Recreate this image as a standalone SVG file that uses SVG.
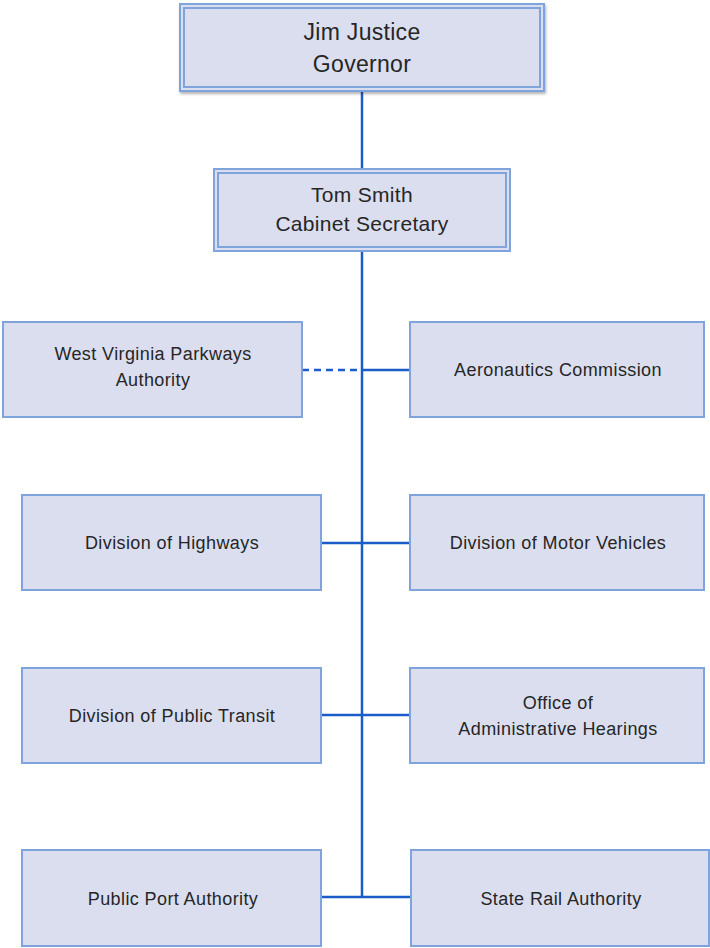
<svg xmlns="http://www.w3.org/2000/svg" width="710" height="948" viewBox="0 0 710 948">
<style>
.box{fill:#dadeef;stroke:#7fa3dd;stroke-width:2}
.inner{fill:none;stroke:#7fa3dd;stroke-width:2}
.t{font-family:"Liberation Sans",Arial,sans-serif;fill:#262626;text-anchor:middle}
.s{font-size:18px;letter-spacing:0.4px}
.l{font-size:21px;letter-spacing:0.3px}
.xl{font-size:23px;letter-spacing:0.3px}
.c{stroke:#1a5cc8;stroke-width:2.5;fill:none}
</style>
<defs>
<filter id="sh" x="-5%" y="-5%" width="110%" height="120%">
<feDropShadow dx="1" dy="2" stdDeviation="1.5" flood-color="#000" flood-opacity="0.3"/>
</filter>
</defs>
<g id="connectors">
<line class="c" x1="362" y1="91" x2="362" y2="168"/>
<line class="c" x1="362" y1="251" x2="362" y2="897"/>
<line class="c" x1="302" y1="370" x2="362" y2="370" stroke-dasharray="7,5"/>
<line class="c" x1="362" y1="370" x2="410" y2="370"/>
<line class="c" x1="321" y1="543" x2="410" y2="543"/>
<line class="c" x1="321" y1="715" x2="410" y2="715"/>
<line class="c" x1="321" y1="897" x2="411" y2="897"/>
</g>
<g id="governor">
<rect class="box" x="180" y="4" width="364" height="87" filter="url(#sh)"/>
<rect class="inner" x="184" y="8" width="356" height="79"/>
<text class="t xl" x="362" y="40">Jim Justice</text>
<text class="t xl" x="362" y="72">Governor</text>
</g>
<g id="secretary">
<rect class="box" x="214" y="169" width="296" height="82"/>
<rect class="inner" x="218" y="173" width="288" height="74"/>
<text class="t l" x="362" y="202">Tom Smith</text>
<text class="t l" x="362" y="231">Cabinet Secretary</text>
</g>
<g id="parkways">
<rect class="box" x="3" y="322" width="299" height="95"/>
<text class="t s" x="153" y="360">West Virginia Parkways</text>
<text class="t s" x="153" y="386">Authority</text>
</g>
<g id="aeronautics">
<rect class="box" x="410" y="322" width="294" height="95"/>
<text class="t s" x="558" y="376">Aeronautics Commission</text>
</g>
<g id="highways">
<rect class="box" x="22" y="495" width="299" height="95"/>
<text class="t s" x="172" y="549">Division of Highways</text>
</g>
<g id="motor-vehicles">
<rect class="box" x="410" y="495" width="294" height="95"/>
<text class="t s" x="558" y="549">Division of Motor Vehicles</text>
</g>
<g id="public-transit">
<rect class="box" x="22" y="668" width="299" height="95"/>
<text class="t s" x="172" y="722">Division of Public Transit</text>
</g>
<g id="admin-hearings">
<rect class="box" x="410" y="668" width="294" height="95"/>
<text class="t s" x="558" y="709">Office of</text>
<text class="t s" x="558" y="735">Administrative Hearings</text>
</g>
<g id="port">
<rect class="box" x="22" y="850" width="299" height="96"/>
<text class="t s" x="173" y="905">Public Port Authority</text>
</g>
<g id="rail">
<rect class="box" x="411" y="850" width="298" height="96"/>
<text class="t s" x="561" y="905">State Rail Authority</text>
</g>
</svg>
